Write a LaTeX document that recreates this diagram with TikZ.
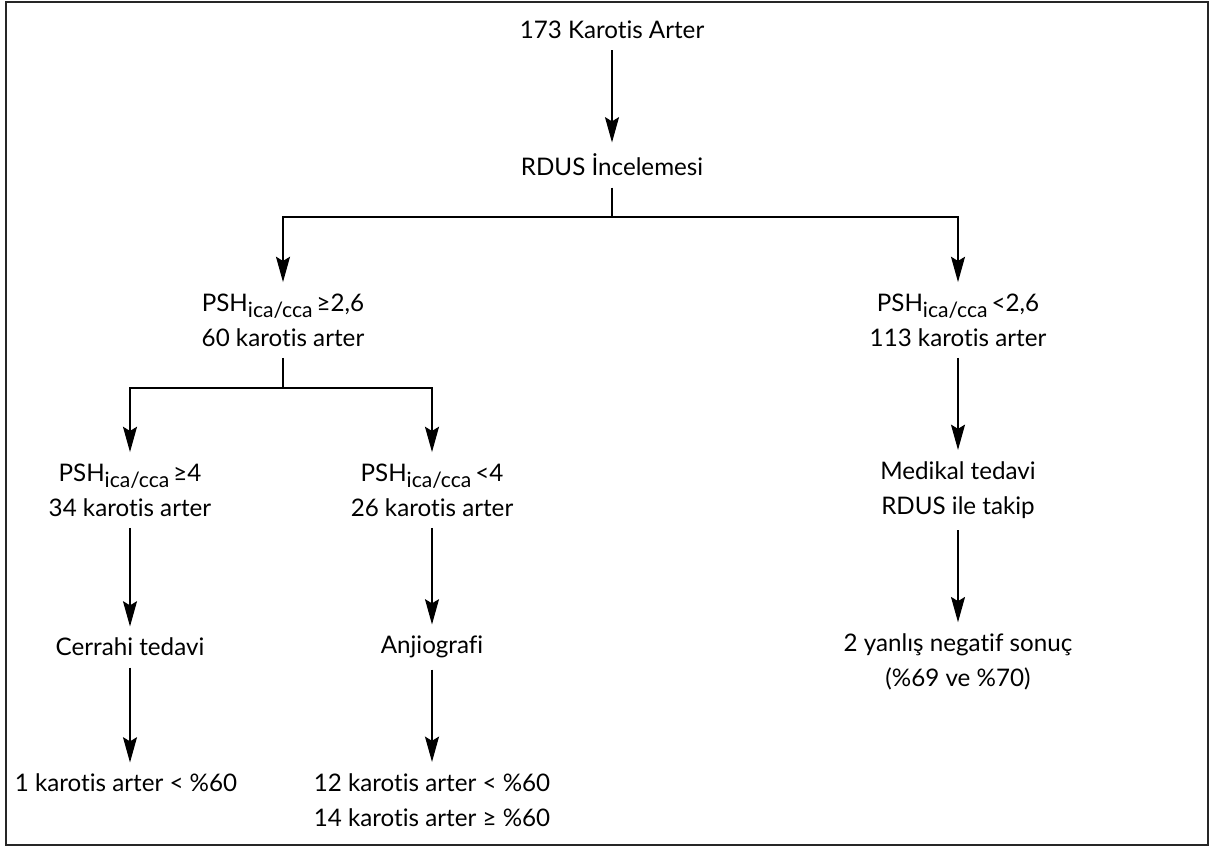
\documentclass[tikz,border=0pt]{standalone}
\usepackage{fontspec}
\setmainfont{Lato}[Ligatures=NoCommon]
\usetikzlibrary{arrows.meta}
\newcommand{\pshratio}[1]{PSH\raisebox{-0.5ex}{\fontsize{15}{15}\selectfont ica/cca}\,#1}

\begin{document}
\begin{tikzpicture}[x=0.025cm,y=-0.025cm,
  lbl/.style={align=center,font=\fontsize{17.2}{25}\selectfont,inner xsep=2pt,inner ysep=8pt},
  arr/.style={-{Stealth[length=18pt,width=10pt,inset=3pt]},line width=0.8pt},
  lnk/.style={line width=0.8pt}]
\useasboundingbox (0,0) rectangle (1215,848);
\draw[line width=0.9pt,black!85] (6,2) rectangle (1208,845);

% top of the tree
\node[lbl] (karotis) at (612,30) {173 Karotis Arter};
\node[lbl] (rdus) at (612,165) {RDUS İncelemesi};
\coordinate (jA) at (612,217);

% first split
\node[lbl] (hiA) at (283,320) {\pshratio{≥2,6}\\60 karotis arter};
\node[lbl] (loA) at (958,320) {\pshratio{<2,6}\\113 karotis arter};
\coordinate (jB) at (283,388);

% second split
\node[lbl] (hiB) at (130,490) {\pshratio{≥4}\\34 karotis arter};
\node[lbl] (loB) at (432,490) {\pshratio{<4}\\26 karotis arter};
\node[lbl] (medikal) at (958,490) {Medikal tedavi\\RDUS ile takip};

\node[lbl] (cerrahi) at (130,647) {Cerrahi tedavi};
\node[lbl] (anjio) at (432,647) {Anjiografi};
\node[lbl] (yanlis) at (958,662) {2 yanlış negatif sonuç\\(\%69 ve \%70)};

\node[lbl] (sonA) at (126,783) {1 karotis arter < \%60};
\node[lbl] (sonB) at (432,800) {12 karotis arter < \%60\\14 karotis arter ≥ \%60};

% connectors
\draw[arr] (karotis) -- (rdus);
\draw[lnk] (rdus) -- (jA);
\draw[arr] (jA) -| (hiA);
\draw[arr] (jA) -| (loA);
\draw[lnk] (hiA) -- (jB);
\draw[arr] (jB) -| (hiB);
\draw[arr] (jB) -| (loB);
\draw[arr] (loA) -- (medikal);
\draw[arr] (hiB) -- (cerrahi);
\draw[arr] (loB) -- (anjio);
\draw[arr] (medikal) -- (yanlis);
\draw[arr] (cerrahi) -- (cerrahi |- sonA.north);
\draw[arr] (anjio) -- (sonB);

\end{tikzpicture}
\end{document}
